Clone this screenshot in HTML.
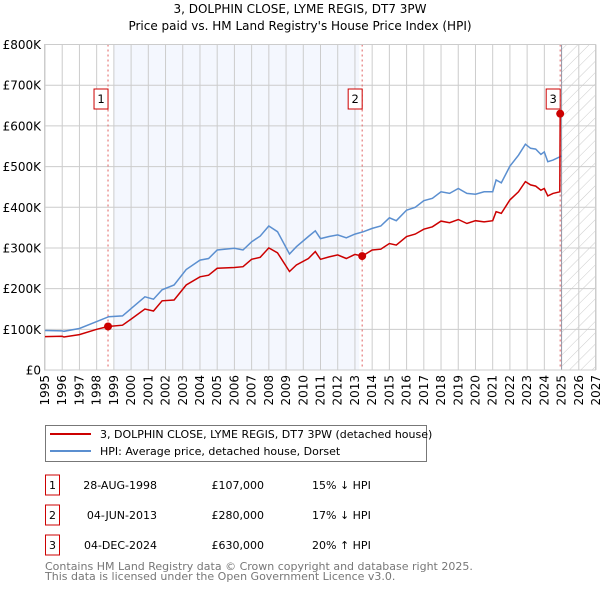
<!DOCTYPE html>
<html><head><meta charset="utf-8"><style>
body{margin:0;background:#fff;font-family:"DejaVu Sans","Liberation Sans",sans-serif;}
svg text{font-family:"DejaVu Sans","Liberation Sans",sans-serif;}
</style></head><body>
<svg id="c" width="600" height="590" xmlns="http://www.w3.org/2000/svg"></svg>
<script>
const hpiYears=[1995,1996,1996.1,1997,1998,1998.7,1999.5,2000,2000.8,2001.3,2001.8,2002.5,2003.2,2004,2004.5,2005,2006,2006.5,2007,2007.5,2008,2008.5,2009.2,2009.6,2010.3,2010.7,2011,2011.5,2012,2012.5,2013,2013.5,2014,2014.5,2015,2015.4,2016,2016.5,2017,2017.5,2018,2018.5,2019,2019.5,2020,2020.5,2021,2021.2,2021.5,2022,2022.5,2022.9,2023.2,2023.5,2023.8,2024,2024.2,2024.5,2025];
const hpiValues=[97,96,95,102,119,131,133,151,180,174,197,209,247,270,274,295,299,295,315,329,354,340,285,303,328,342,323,328,332,325,334,340,348,354,374,367,393,400,416,422,438,434,446,434,432,438,438,467,460,501,528,555,545,543,530,536,512,516,526];
const priceYears=[1995,1996,1996.1,1997,1998,1998.66,1999.5,2000,2000.8,2001.3,2001.8,2002.5,2003.2,2004,2004.5,2005,2006,2006.5,2007,2007.5,2008,2008.5,2009.2,2009.6,2010.3,2010.7,2011,2011.5,2012,2012.5,2013,2013.42,2014,2014.5,2015,2015.4,2016,2016.5,2017,2017.5,2018,2018.5,2019,2019.5,2020,2020.5,2021,2021.2,2021.5,2022,2022.5,2022.9,2023.2,2023.5,2023.8,2024,2024.2,2024.5,2024.9,2024.92,2025];
const priceValues=[82,83,81,87,100,107,110,125,150,145,170,172,209,229,233,250,252,254,272,277,300,288,242,258,274,291,272,278,283,274,284,280,295,297,311,307,328,334,346,352,366,362,370,360,367,364,367,389,385,418,438,463,455,452,442,446,428,434,438,630,628];
const saleYears=[1998.66,2013.42,2024.92];
const saleValues=[107,280,630];
const saleLabels=["1","2","3"];
const yTicks=[0,100,200,300,400,500,600,700,800];
const yTickLabels=["£0","£100K","£200K","£300K","£400K","£500K","£600K","£700K","£800K"];
const xTicks=[1995,1996,1997,1998,1999,2000,2001,2002,2003,2004,2005,2006,2007,2008,2009,2010,2011,2012,2013,2014,2015,2016,2017,2018,2019,2020,2021,2022,2023,2024,2025,2026,2027];

const svg=document.getElementById('c');const NS='http://www.w3.org/2000/svg';
const L=45,R=596,T=44.5,B=370;
const X=y=>L+(y-1995)/(2027-1995)*(R-L);
const Y=v=>B-v/800*(B-T);
function mk(tag,attrs,parent,name){const e=document.createElementNS(NS,tag);for(const k in attrs)e.setAttribute(k,attrs[k]);(parent||svg).appendChild(e);


return e;}
function txt(s,attrs,name){const e=mk('text',attrs,svg,name);e.textContent=s;return e;}
txt('3, DOLPHIN CLOSE, LYME REGIS, DT7 3PW',{x:300,y:13,'text-anchor':'middle','font-size':12},'chart-title');
txt("Price paid vs. HM Land Registry's House Price Index (HPI)",{x:300,y:30,'text-anchor':'middle','font-size':12},'chart-subtitle');
mk('rect',{x:X(1999),y:T,width:X(2013.25)-X(1999),height:B-T,fill:'#f4f7fe'},svg,'shaded-period');
const defs=mk('defs',{},svg,'defs');
const pat=mk('pattern',{id:'h',width:8,height:8,patternUnits:'userSpaceOnUse',patternTransform:'rotate(45)'},defs,'hatch-pattern');
mk('line',{x1:0,y1:0,x2:0,y2:8,stroke:'#ccc','stroke-width':1},pat,'hatch-line');
mk('rect',{x:X(2025),y:T,width:R-X(2025),height:B-T,fill:'url(#h)'},svg,'future-hatch');
xTicks.forEach(t=>{mk('line',{x1:X(t),y1:T,x2:X(t),y2:B,stroke:'#ccc','stroke-width':1},svg,'x-grid-line');
 txt(String(t),{x:0,y:0,'font-size':12,'text-anchor':'end',transform:`translate(${X(t)+4},${B+5}) rotate(-90)`},'x-tick-label');});
yTicks.forEach((t,i)=>{mk('line',{x1:L,y1:Y(t),x2:R,y2:Y(t),stroke:'#ccc','stroke-width':1},svg,'y-grid-line');
 txt(yTickLabels[i],{x:L-4,y:Y(t)+4.5,'font-size':12,'text-anchor':'end'},'y-tick-label');});
mk('line',{x1:X(2025),y1:T,x2:X(2025),y2:B,stroke:'#99a','stroke-width':1},svg,'today-line');
saleYears.forEach(s=>mk('line',{x1:X(s),y1:T,x2:X(s),y2:B,stroke:'#e06060','stroke-width':1,'stroke-dasharray':'2,3'},svg,'sale-marker-line'));
mk('polyline',{points:hpiYears.map((y,i)=>X(y).toFixed(1)+','+Y(hpiValues[i]).toFixed(1)).join(' '),fill:'none',stroke:'#5b8fd0','stroke-width':1.5},svg,'hpi-line');
mk('polyline',{points:priceYears.map((y,i)=>X(y).toFixed(1)+','+Y(priceValues[i]).toFixed(1)).join(' '),fill:'none',stroke:'#cc0000','stroke-width':1.5},svg,'price-line');
saleYears.forEach((s,i)=>{mk('circle',{cx:X(s),cy:Y(saleValues[i]),r:4,fill:'#cc0000'},svg,'sale-point');
 const bx=X(s)-10;mk('rect',{x:bx-4,y:89,width:14,height:20,fill:'#fff',stroke:'#cc0000'},svg,'sale-label-box');
 txt(saleLabels[i],{x:bx+3,y:103,'font-size':11.5,'text-anchor':'middle'},'sale-label');});
mk('rect',{x:L-0.5,y:T,width:R-L,height:B-T,fill:'none',stroke:'#ccc'},svg,'plot-border');
mk('rect',{x:45.5,y:425.5,width:381,height:36,fill:'#fff',stroke:'#777'},svg,'legend-box');
mk('line',{x1:50,y1:434,x2:91,y2:434,stroke:'#cc0000','stroke-width':2},svg,'legend-price-swatch');
txt('3, DOLPHIN CLOSE, LYME REGIS, DT7 3PW (detached house)',{x:100,y:438,'font-size':11},'legend-price-label');
mk('line',{x1:50,y1:451,x2:91,y2:451,stroke:'#5b8fd0','stroke-width':2},svg,'legend-hpi-swatch');
txt('HPI: Average price, detached house, Dorset',{x:100,y:455,'font-size':11},'legend-hpi-label');
const rowDates=['28-AUG-1998','04-JUN-2013','04-DEC-2024'];
const rowPrices=['£107,000','£280,000','£630,000'];
const rowDiffs=['15% ↓ HPI','17% ↓ HPI','20% ↑ HPI'];
rowDates.forEach((d,i)=>{const yy=483+i*30;
 mk('rect',{x:45.5,y:yy-8,width:14,height:20,fill:'#fff',stroke:'#cc0000'},svg,'table-row-badge');
 txt(saleLabels[i],{x:52.5,y:yy+6,'font-size':11,'text-anchor':'middle'},'table-row-number');
 txt(d,{x:157,y:yy+6,'font-size':11,'text-anchor':'end'},'table-row-date');
 txt(rowPrices[i],{x:264,y:yy+6,'font-size':11,'text-anchor':'end'},'table-row-price');
 txt(rowDiffs[i],{x:312,y:yy+6,'font-size':11},'table-row-hpi-diff');});
txt('Contains HM Land Registry data © Crown copyright and database right 2025.',{x:45,y:570,'font-size':11,fill:'#777'},'footer-copyright');
txt('This data is licensed under the Open Government Licence v3.0.',{x:45,y:580,'font-size':11,fill:'#777'},'footer-licence');
</script></body></html>
